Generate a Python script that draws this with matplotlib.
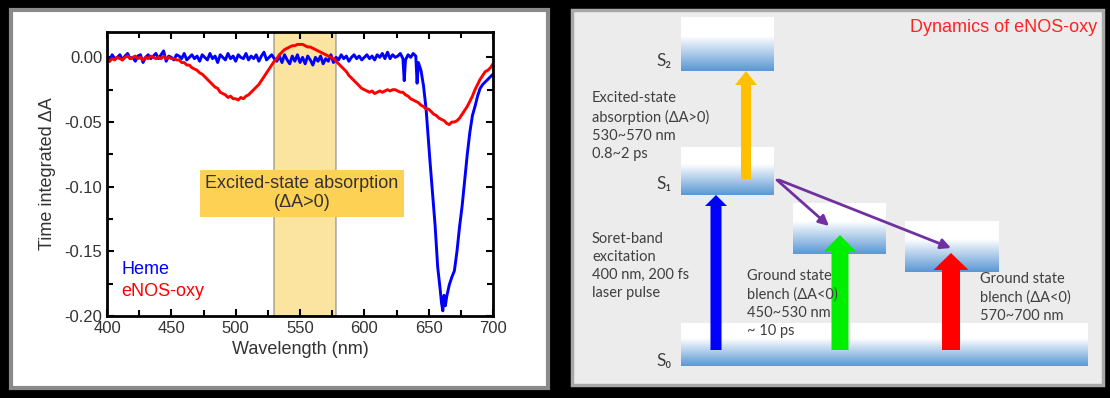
import numpy as np
import matplotlib.pyplot as plt
from matplotlib.patches import Rectangle
from matplotlib.colors import LinearSegmentedColormap

# ---- left panel: time integrated spectra (values x1000) ----
wl_red = np.arange(400, 701, 2)
enos_oxy = [-2, -3, -1, -2, 0, -1, -2, 0, 1, -1, 0, 1, -1, 0, -2, 0, -1, 1, 0, -1,
            0, -1, 1, -1, 0, -1, -1, -2, -2, -4, -4, -6, -6, -8, -9, -10, -12, -13, -15, -17,
            -19, -21, -23, -24, -27, -28, -29, -31, -30, -32, -32, -33, -31, -32, -30, -29, -27, -25, -23, -21,
            -18, -15, -12, -9, -6, -3, -1, 2, 4, 6, 7, 8, 9, 9, 10, 10, 10, 9, 8, 8,
            7, 6, 5, 4, 3, 2, 1, 0, -1, -3, -5, -7, -9, -11, -14, -16, -18, -20, -22, -24,
            -25, -26, -27, -26, -28, -27, -26, -27, -26, -25, -26, -25, -25, -26, -27, -27, -29, -30, -32, -33,
            -34, -35, -37, -38, -40, -40, -42, -44, -45, -47, -48, -49, -51, -52, -50, -50, -49, -47, -44, -41,
            -38, -34, -30, -25, -21, -17, -14, -11, -10, -8, -5]

wl_blue = list(range(400, 631, 2)) + [631, 632, 634, 636, 638, 640, 641, 642, 644, 646, 648,
                                      651, 653, 655, 657, 659, 660, 661, 662, 663, 664, 666, 668,
                                      670, 672, 674, 676, 678, 680, 682, 684, 686, 688, 690, 692,
                                      694, 696, 698, 700]
heme = [1, -3, 2, -1, 0, 2, -2, 1, 3, -1, 0, -3, 1, 2, -4, 0, 2, -1, 1, 3,
        -1, 2, 5, -3, 1, 0, -2, 2, 1, -1, 3, -2, 0, 2, -1, 1, -3, 2, 0, -2,
        3, -1, 1, -4, 2, 0, -2, 3, -1, 1, -3, 2, 0, -1, 3, -2, 1, -1, 2, -3,
        1, 4, -2, 0, 2, -1, -3, 1, -4, 2, -2, -5, 1, -3, 2, -4, 0, -5, 1, -2,
        -6, 0, -3, 1, -5, -1, -3, 2, -4, 0, -2, 2, -1, 1, -3, 0, 2, -1, 1, -2,
        0, 2, -1, 1, -2, 2, 0, 3, -1, 4, -1, 2, 0, 1, 3, -1,
        -18, -2, 2, 0, 3, 1, -20, -4, -10, -22, -40,
        -80, -105, -130, -162, -180, -190, -196, -184, -192, -185, -176, -170,
        -165, -150, -131, -115, -95, -75, -58, -45, -38, -30, -24, -21,
        -19, -17, -15, -13]

esa_band = (530, 578)

# ---- right panel: energy level diagram ----
level_names = ['S₂', 'S₁', '', '', 'S₀']
level_boxes = [(681, 774, 17, 71), (681, 774, 147, 195), (793, 886, 203, 254),
               (905, 999, 221, 272), (681, 1088, 323, 366)]
level_label_y = [61, 184, None, None, 361]

arrow_x = [746, 716, 840, 951]
arrow_y = [(179, 71), (350, 195), (350, 235), (350, 253)]
arrow_w = [10, 11, 17, 18]
arrow_head = [(22, 14), (22, 11), (33, 17), (35, 17)]
arrow_colors = ['#FFC000', '#0000FF', '#00EE00', '#FF0000']

decay_arrows = [((777, 180), (829, 226)), ((779, 180), (951, 248))]

notes = ['Excited-state\nabsorption (ΔA>0)\n530~570 nm\n0.8~2 ps',
         'Soret-band\nexcitation\n400 nm, 200 fs\nlaser pulse',
         'Ground state\nblench (ΔA<0)\n450~530 nm\n~ 10 ps',
         'Ground state\nblench (ΔA<0)\n570~700 nm']
note_xy = [(592, 91), (592, 232), (747, 269), (980, 272)]

fig = plt.figure(figsize=(11.1, 3.98), dpi=100, facecolor='black')

bg = fig.add_axes([0, 0, 1, 1])
bg.set_facecolor('black')
bg.axis('off')

# panels
bg.add_patch(Rectangle((11, 10), 537, 378, facecolor='white', edgecolor='#8a8a8a', lw=3))
bg.add_patch(Rectangle((572, 10), 531, 375, facecolor='#ececec', edgecolor='#a8a8a8', lw=2.5))

# level boxes with white -> blue gradient
grad_cmap = LinearSegmentedColormap.from_list('lvl', [(0, 'white'), (0.35, 'white'), (1, '#5b98d4')])
grad = np.linspace(0, 1, 64).reshape(-1, 1)
for name, (x0, x1, y0, y1), ly in zip(level_names, level_boxes, level_label_y):
    bg.imshow(grad, cmap=grad_cmap, extent=(x0, x1, y1, y0), aspect='auto', zorder=2)
    if name:
        bg.text(664, ly, name, ha='center', va='center', fontsize=12.5,
                family=['Lato', 'DejaVu Sans'], color='#404040', zorder=4)

for x, (ya, yb), w, (hw, hl), c in zip(arrow_x, arrow_y, arrow_w, arrow_head, arrow_colors):
    bg.arrow(x, ya, 0, yb - ya, width=w, head_width=hw, head_length=hl,
             length_includes_head=True, color=c, lw=0, zorder=3)

for (p0, p1) in decay_arrows:
    bg.annotate('', xy=p1, xytext=p0, zorder=3,
                arrowprops=dict(arrowstyle='-|>,head_length=0.6,head_width=0.3',
                                color='#7030a0', lw=2, shrinkA=0, shrinkB=0))

for txt, (x, y) in zip(notes, note_xy):
    bg.text(x, y, txt, ha='left', va='top', fontsize=10.5, linespacing=1.37,
            family=['Lato', 'DejaVu Sans'], color='#3f3f3f', zorder=5)

bg.text(1097, 27, 'Dynamics of eNOS-oxy', ha='right', va='center', fontsize=13,
        family='Liberation Sans', color='#ff2222', zorder=5)

bg.set_xlim(0, 1110)
bg.set_ylim(398, 0)

# ---- spectra plot ----
ax = fig.add_axes([107 / 1110, 82 / 398, 386 / 1110, 284 / 398], zorder=5)
ax.plot(wl_blue, np.array(heme) / 1000, color='#0000ff', lw=2.1)
ax.plot(wl_red, np.array(enos_oxy) / 1000, color='#ff0000', lw=2.1)
ax.axvspan(*esa_band, facecolor='#f7b912', alpha=0.4, edgecolor='#505050', lw=1.3)
ax.text(551.5, -0.105, 'Excited-state absorption\n(ΔA>0)', ha='center', va='center',
        fontsize=13, family='Liberation Sans', color='#333333', linespacing=1.15,
        bbox=dict(boxstyle='square,pad=0.3', facecolor='#fdd254', edgecolor='none'))
ax.text(411, -0.164, 'Heme', color='#0000ff', fontsize=13, family='Liberation Sans', va='center')
ax.text(411, -0.181, 'eNOS-oxy', color='#ff0000', fontsize=13, family='Liberation Sans', va='center')

ax.set_xlim(400, 700)
ax.set_ylim(-0.20, 0.0196)
ax.set_xticks([400, 450, 500, 550, 600, 650, 700])
ax.set_xticks(np.arange(425, 700, 50), minor=True)
ax.set_yticks([0.00, -0.05, -0.10, -0.15, -0.20])
ax.set_yticklabels(['0.00', '-0.05', '-0.10', '-0.15', '-0.20'])
ax.set_yticks([-0.025, -0.075, -0.125, -0.175], minor=True)
ax.tick_params(which='both', direction='in', top=True, right=True, width=1.5,
               labelsize=12, labelcolor='#333333')
ax.tick_params(which='major', length=5)
ax.tick_params(which='minor', length=4)
for lab in ax.get_xticklabels() + ax.get_yticklabels():
    lab.set_family('Liberation Sans')
for s in ax.spines.values():
    s.set_linewidth(2)
ax.set_xlabel('Wavelength (nm)', fontsize=13, family='Liberation Sans', color='#333333', labelpad=4)
ax.set_ylabel('Time integrated ΔA', fontsize=13, family='Liberation Sans', color='#333333', labelpad=6)

fig.savefig('out.png', dpi=100, facecolor='black')
